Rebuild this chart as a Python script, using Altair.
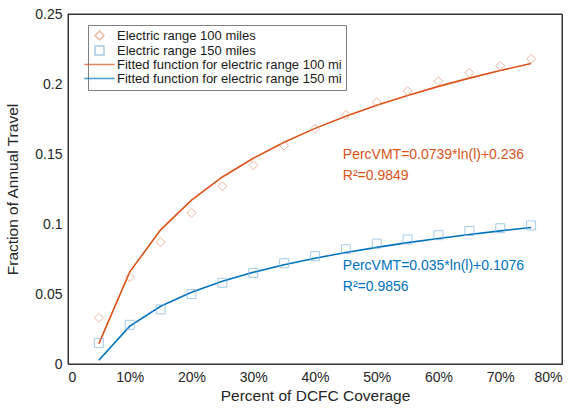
import altair as alt
import pandas as pd

coverage = [0.05, 0.10, 0.15, 0.20, 0.25, 0.30, 0.35, 0.40, 0.45, 0.50, 0.55, 0.60, 0.65, 0.70, 0.75]
obs_100 = [0.033, 0.062, 0.087, 0.108, 0.127, 0.142, 0.156, 0.168, 0.178, 0.187, 0.195, 0.202, 0.208, 0.213, 0.218]
obs_150 = [0.015, 0.028, 0.039, 0.050, 0.058, 0.065, 0.072, 0.077, 0.082, 0.086, 0.089, 0.092, 0.095, 0.097, 0.099]
fit_100 = [0.0146, 0.0658, 0.0958, 0.1171, 0.1336, 0.1470, 0.1584, 0.1683, 0.1770, 0.1848, 0.1918, 0.1983, 0.2042, 0.2096, 0.2147]
fit_150 = [0.0027, 0.0270, 0.0412, 0.0513, 0.0591, 0.0655, 0.0709, 0.0755, 0.0797, 0.0833, 0.0867, 0.0897, 0.0925, 0.0951, 0.0975]

series_names = [
    "Electric range 100 miles",
    "Electric range 150 miles",
    "Fitted function for electric range 100 mi",
    "Fitted function for electric range 150 mi",
]
series_colors = ["#E89A7A", "#7FB6DE", "#D95319", "#0072BD"]
series_shapes = ["diamond", "square", "M-3.4,0L3.4,0", "M-3.4,0L3.4,0"]

ann_x = [0.445, 0.445, 0.445, 0.445]
ann_y = [0.1493, 0.1343, 0.0700, 0.0550]
ann_text = ["PercVMT=0.0739*ln(l)+0.236", "R\u00b2=0.9849", "PercVMT=0.035*ln(l)+0.1076", "R\u00b2=0.9856"]
ann_color = ["#D95319", "#D95319", "#0072BD", "#0072BD"]

x_ticks = [0, 0.1, 0.2, 0.3, 0.4, 0.5, 0.6, 0.7, 0.8]
y_ticks = [0, 0.05, 0.1, 0.15, 0.2, 0.25]

FONT = "Liberation Sans"
FRAME = "#333333"

pts = pd.DataFrame({
    "x": coverage * 2,
    "y": obs_100 + obs_150,
    "series": [series_names[0]] * len(coverage) + [series_names[1]] * len(coverage),
})
fits = pd.DataFrame({
    "x": coverage * 2,
    "y": fit_100 + fit_150,
    "series": [series_names[2]] * len(coverage) + [series_names[3]] * len(coverage),
})
ann = pd.DataFrame({"x": ann_x, "y": ann_y, "text": ann_text, "c": ann_color})

xscale = alt.Scale(domain=[0, 0.8], nice=False, zero=False)
yscale = alt.Scale(domain=[0, 0.25], nice=False)
cscale = alt.Scale(domain=series_names, range=series_colors)
sscale = alt.Scale(domain=series_names, range=series_shapes)

xaxis = alt.Axis(
    title="Percent of DCFC Coverage",
    values=x_ticks,
    labelExpr="datum.value == 0 ? '0' : format(datum.value, '.0%')",
    gridOpacity={"condition": {"test": "datum.value <= 0 || datum.value >= 0.8", "value": 0}, "value": 1},
)
yaxis = alt.Axis(
    title="Fraction of Annual Travel",
    values=y_ticks,
    format="~g",
    gridOpacity={"condition": {"test": "datum.value <= 0 || datum.value >= 0.25", "value": 0}, "value": 1},
)

legend = alt.Legend(
    title=None,
    orient="none",
    legendX=20,
    legendY=11,
    fillColor="white",
    strokeColor="#808080",
    padding=4,
    rowPadding=0,
    labelFontSize=13,
    labelFont=FONT,
    labelColor="#1a1a1a",
    symbolSize=80,
    symbolStrokeWidth=1.5,
    symbolOffset=1,
    labelOffset=11,
    labelLimit=400,
)

frame = alt.Chart(pd.DataFrame({"k": [0]})).mark_rect(
    fillOpacity=0, stroke=FRAME, strokeWidth=1
).encode(
    x=alt.datum(x_ticks[0], scale=xscale),
    x2=alt.datum(x_ticks[-1]),
    y=alt.datum(y_ticks[0], scale=yscale),
    y2=alt.datum(y_ticks[-1]),
)

lines = alt.Chart(fits).mark_line(strokeWidth=1.6).encode(
    x=alt.X("x:Q", scale=xscale, axis=xaxis),
    y=alt.Y("y:Q", scale=yscale, axis=yaxis),
    color=alt.Color("series:N", scale=cscale, legend=legend),
)

points = alt.Chart(pts).mark_point(filled=False, size=80, strokeWidth=1).encode(
    x=alt.X("x:Q", scale=xscale),
    y=alt.Y("y:Q", scale=yscale),
    color=alt.Color("series:N", scale=cscale, legend=legend),
    shape=alt.Shape("series:N", scale=sscale, legend=legend),
)

texts = alt.Chart(ann).mark_text(align="left", baseline="middle", fontSize=14, font=FONT).encode(
    x=alt.X("x:Q", scale=xscale),
    y=alt.Y("y:Q", scale=yscale),
    text="text:N",
    color=alt.Color("c:N", scale=None),
)

chart = alt.layer(frame, lines, points, texts).properties(
    width=494,
    height=350,
    autosize=alt.AutoSizeParams(type="none"),
    padding={"left": 68, "top": 14, "right": 14, "bottom": 44},
).configure(
    background="white",
).configure_view(
    stroke=FRAME, strokeWidth=1
).configure_axis(
    labelFont=FONT,
    titleFont=FONT,
    labelFontSize=14,
    titleFontSize=15.5,
    titleFontWeight="normal",
    labelColor="#262626",
    titleColor="#262626",
    gridColor="#e3e3e3",
    domain=True,
    domainColor=FRAME,
    ticks=False,
    labelPadding=6,
).configure_axisY(
    titlePadding=14,
).configure_axisX(
    titlePadding=4,
)

chart.save("out.html", embed_options={"renderer": "svg", "actions": False})
